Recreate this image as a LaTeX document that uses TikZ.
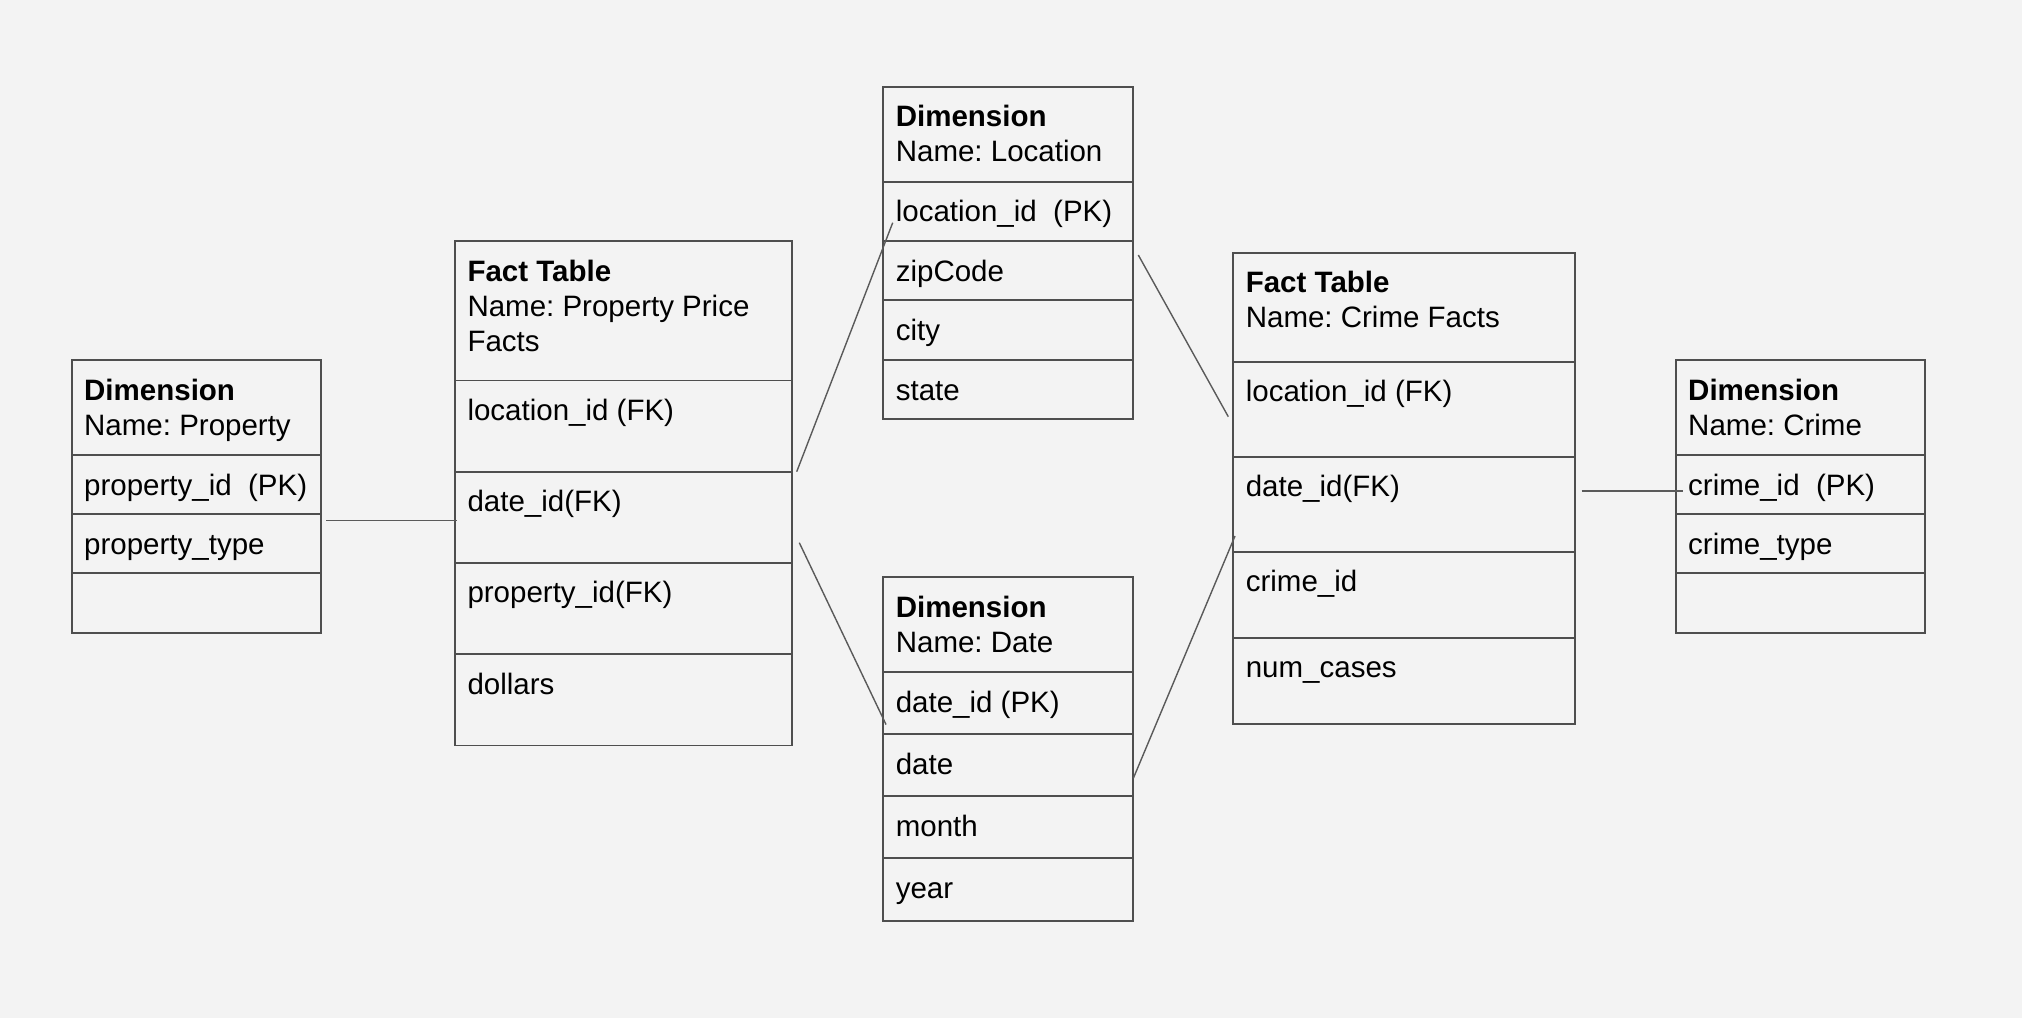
\documentclass[tikz,border=0pt]{standalone}
\usepackage{fontspec}
\setmainfont{Liberation Sans}
\usetikzlibrary{calc}
\frenchspacing
\definecolor{bg}{HTML}{F3F3F3}
\definecolor{bd}{HTML}{4E4E4E}
\definecolor{ln}{HTML}{5A5A5A}
\tikzset{
  cell/.style={draw=bd, line width=0.9pt, inner sep=0pt, outer sep=0pt, anchor=north west},
  lbl/.style={inner sep=0pt, outer sep=0pt, anchor=base west, text=black, font=\fontsize{14.75pt}{17.35pt}\selectfont},
  conn/.style={draw=ln, line width=0.7pt}
}
\newcommand\trow[6]{%
  \node[cell, minimum width=#4*0.5pt, minimum height=#5*0.5pt] (#1) at (#2,#3) {};
  \node[lbl] (#1-t) at ($(#1.north west)+(12.5,40)$) {#6};}
\newcommand\thdr[7]{%
  \node[cell, minimum width=#4*0.5pt, minimum height=#5*0.5pt] (#1) at (#2,#3) {};
  \node[lbl] (#1-a) at ($(#1.north west)+(12.5,40)$) {\bfseries #6};
  \node[lbl] (#1-b) at ($(#1.north west)+(12.5,75)$) {#7};}
\begin{document}
\begin{tikzpicture}[x=0.5pt,y=-0.5pt]
\fill[bg] (0,0) rectangle (2022,1018);
\useasboundingbox (0,0) rectangle (2022,1018);

% Dimension: Property
\thdr{pH}{71.7}{360}{249.3}{95}{Dimension}{Name: Property}
\trow{pR1}{71.7}{455}{249.3}{59.3}{property\_id~~(PK)}
\trow{pR2}{71.7}{514.3}{249.3}{59}{property\_type}
\node[cell, minimum width=249.3*0.5pt, minimum height=60*0.5pt] (pR3) at (71.7,573.3) {};

% Fact Table: Property Price Facts
\thdr{fH}{455}{241.2}{337}{139.2}{Fact Table}{Name: Property Price}
\node[lbl] (fH-c) at ($(fH.north west)+(12.5,110.2)$) {Facts};
\trow{fR1}{455}{380.4}{337}{91.3}{location\_id (FK)}
\trow{fR2}{455}{471.7}{337}{91.2}{date\_id(FK)}
\trow{fR3}{455}{562.9}{337}{91.3}{property\_id(FK)}
\trow{fR4}{455}{654.2}{337}{91.3}{dollars}

% Dimension: Location
\thdr{lH}{883.3}{86.7}{250}{95}{Dimension}{Name: Location}
\trow{lR1}{883.3}{181.7}{250}{59.3}{location\_id~~(PK)}
\trow{lR2}{883.3}{241}{250}{59}{zipCode}
\trow{lR3}{883.3}{300}{250}{60}{city}
\trow{lR4}{883.3}{360}{250}{59}{state}

% Dimension: Date
\thdr{dH}{883.3}{577.3}{250}{95}{Dimension}{Name: Date}
\trow{dR1}{883.3}{672.3}{250}{61.7}{date\_id (PK)}
\trow{dR2}{883.3}{734}{250}{62}{date}
\trow{dR3}{883.3}{796}{250}{62.3}{month}
\trow{dR4}{883.3}{858.3}{250}{62.4}{year}

% Fact Table: Crime Facts
\thdr{cH}{1233.3}{252.7}{342}{109}{Fact Table}{Name: Crime Facts}
\trow{cR1}{1233.3}{361.7}{342}{95}{location\_id (FK)}
\trow{cR2}{1233.3}{456.7}{342}{95}{date\_id(FK)}
\trow{cR3}{1233.3}{551.7}{342}{86}{crime\_id}
\trow{cR4}{1233.3}{637.7}{342}{86.3}{num\_cases}

% Dimension: Crime
\thdr{kH}{1675.7}{360}{249.3}{95}{Dimension}{Name: Crime}
\trow{kR1}{1675.7}{455}{249.3}{59.3}{crime\_id~~(PK)}
\trow{kR2}{1675.7}{514.3}{249.3}{59}{crime\_type}
\node[cell, minimum width=249.3*0.5pt, minimum height=60*0.5pt] (kR3) at (1675.7,573.3) {};

% connector end points
\coordinate (a1) at (326,520.3);   \coordinate (a2) at (456.7,520.3);
\coordinate (b1) at (796.7,471.7); \coordinate (b2) at (892.7,222.7);
\coordinate (c1) at (799.3,542.7); \coordinate (c2) at (886,724.5);
\coordinate (d1) at (1138.3,255);  \coordinate (d2) at (1228.3,416.7);
\coordinate (e1) at (1133.3,778.3);\coordinate (e2) at (1235,536);
\coordinate (f1) at (1581.7,491);  \coordinate (f2) at (1682.7,491);

\draw[conn] (a1) -- (a2);
\draw[conn] (b1) -- (b2);
\draw[conn] (c1) -- (c2);
\draw[conn] (d1) -- (d2);
\draw[conn] (e1) -- (e2);
\draw[conn] (f1) -- (f2);
\end{tikzpicture}
\end{document}
